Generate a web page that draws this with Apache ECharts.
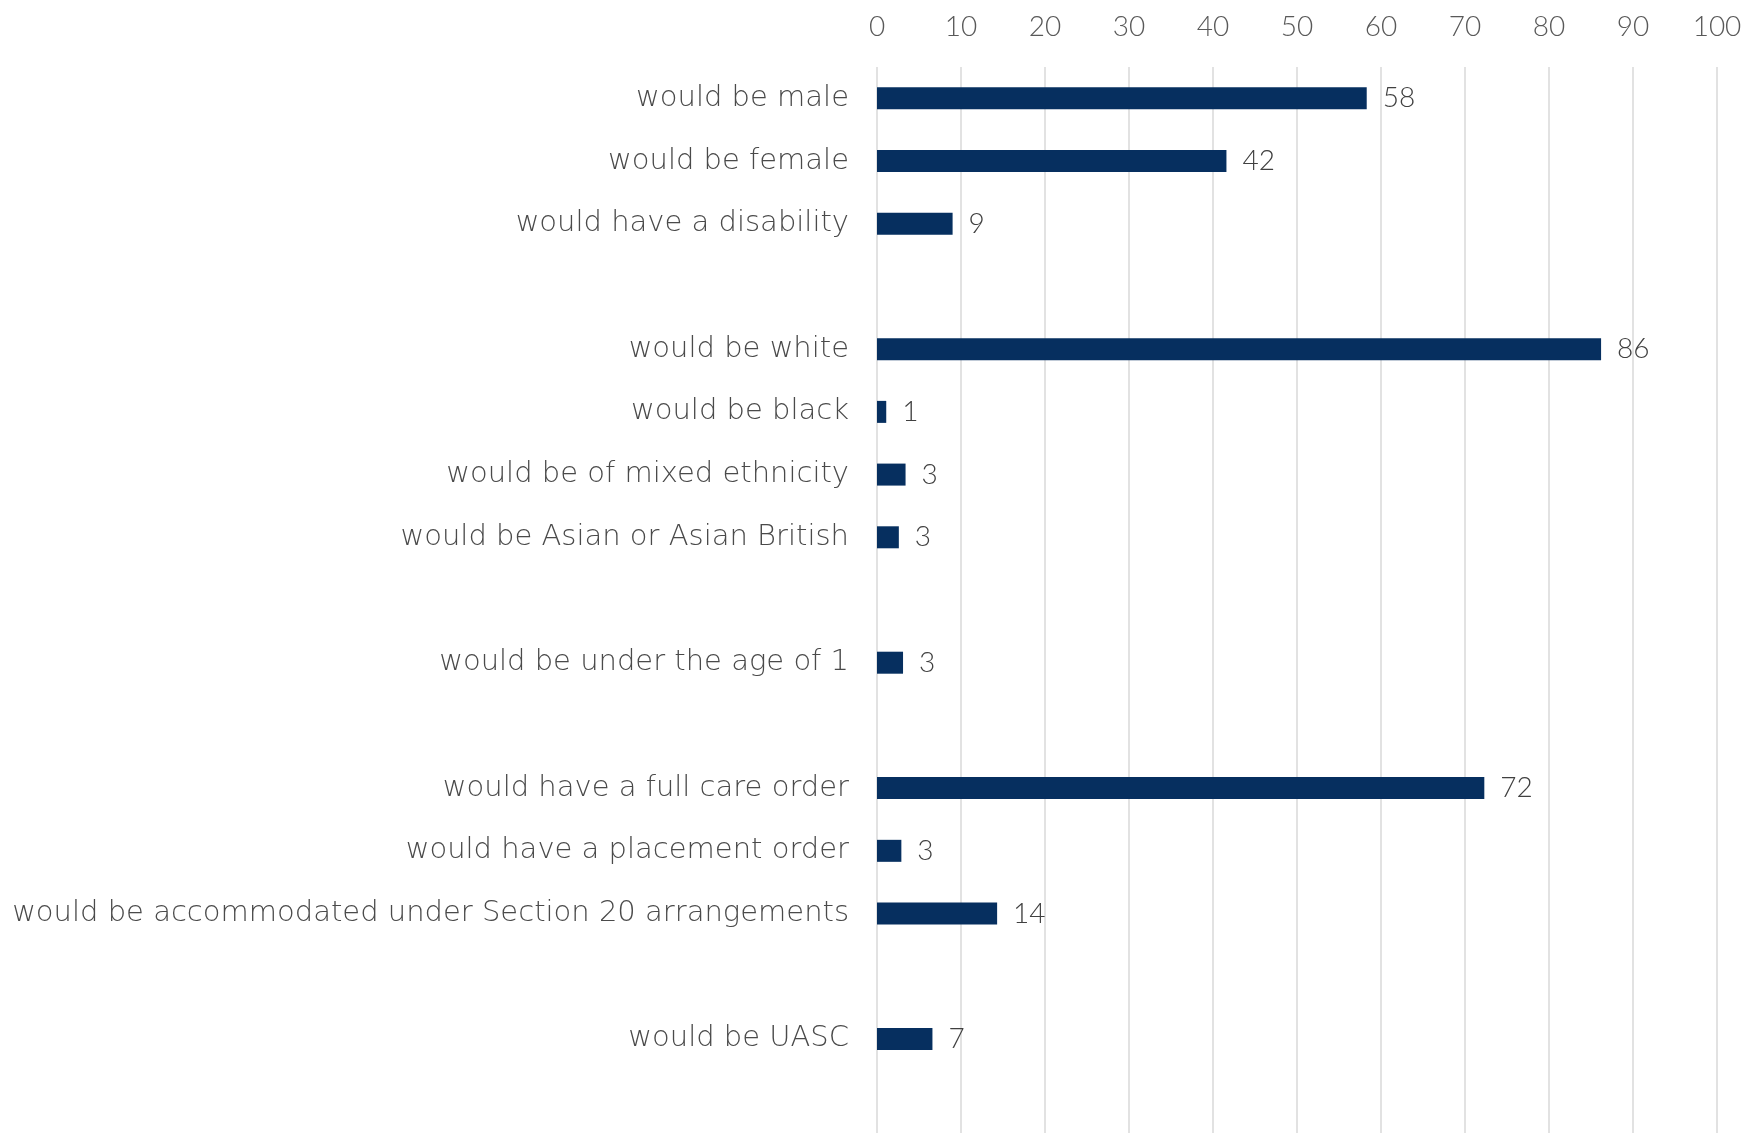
<!DOCTYPE html>
<html>
<head>
<meta charset="utf-8">
<script src="https://cdn.jsdelivr.net/npm/echarts@6/dist/echarts.min.js"></script>
<style>
html,body{margin:0;padding:0;background:#fff;}
#chart{width:1748px;height:1133px;}
</style>
</head>
<body>
<div id="chart"></div>
<script>
const categories = [
  'would be male',
  'would be female',
  'would have a disability',
  '',
  'would be white',
  'would be black',
  'would be of mixed ethnicity',
  'would be Asian or Asian British',
  ' ',
  'would be under the age of 1',
  '  ',
  'would have a full care order',
  'would have a placement order',
  'would be accommodated under Section 20 arrangements',
  '   ',
  'would be UASC',
  '    '
];
const values = [58.3, 41.6, 9.0, null, 86.2, 1.1, 3.4, 2.6, null, 3.1, null, 72.3, 2.9, 14.3, null, 6.6, null];
const labels = ['58', '42', '9', '', '86', '1', '3', '3', '', '3', '', '72', '3', '14', '', '7', ''];
const xTicks = [0, 10, 20, 30, 40, 50, 60, 70, 80, 90, 100];

const NUMFONT = 'Lato';
const CATFONT = 'DejaVu Sans';
const chart = echarts.init(document.getElementById('chart'));
chart.setOption({
  animation: false,
  backgroundColor: '#ffffff',
  grid: { left: 877, right: 31, top: 67, bottom: 0, containLabel: false },
  xAxis: {
    type: 'value',
    position: 'top',
    min: xTicks[0],
    max: xTicks[xTicks.length - 1],
    interval: 10,
    axisLine: { show: false },
    axisTick: { show: false },
    axisLabel: { color: '#595959', fontSize: 28, fontFamily: NUMFONT, fontWeight: 300, margin: 26 },
    splitLine: { show: true, lineStyle: { color: '#d9d9d9', width: 1.5 } }
  },
  yAxis: {
    type: 'category',
    inverse: true,
    data: categories,
    axisLine: { show: false },
    axisTick: { show: false },
    axisLabel: { color: '#4a4a4a', fontSize: 29, fontFamily: CATFONT, fontWeight: 200, margin: 28, interval: 0, lineHeight: 34, padding: [6, 0, 0, 0] },
    splitLine: { show: false }
  },
  series: [{
    type: 'bar',
    data: values,
    barWidth: 22,
    itemStyle: { color: '#062f5f' },
    label: {
      show: true,
      position: 'right',
      distance: 16,
      color: '#404040',
      fontSize: 28,
      fontFamily: NUMFONT,
      fontWeight: 300,
      lineHeight: 32,
      padding: [5, 0, 0, 0],
      formatter: p => labels[p.dataIndex]
    }
  }]
});
</script>
</body>
</html>
